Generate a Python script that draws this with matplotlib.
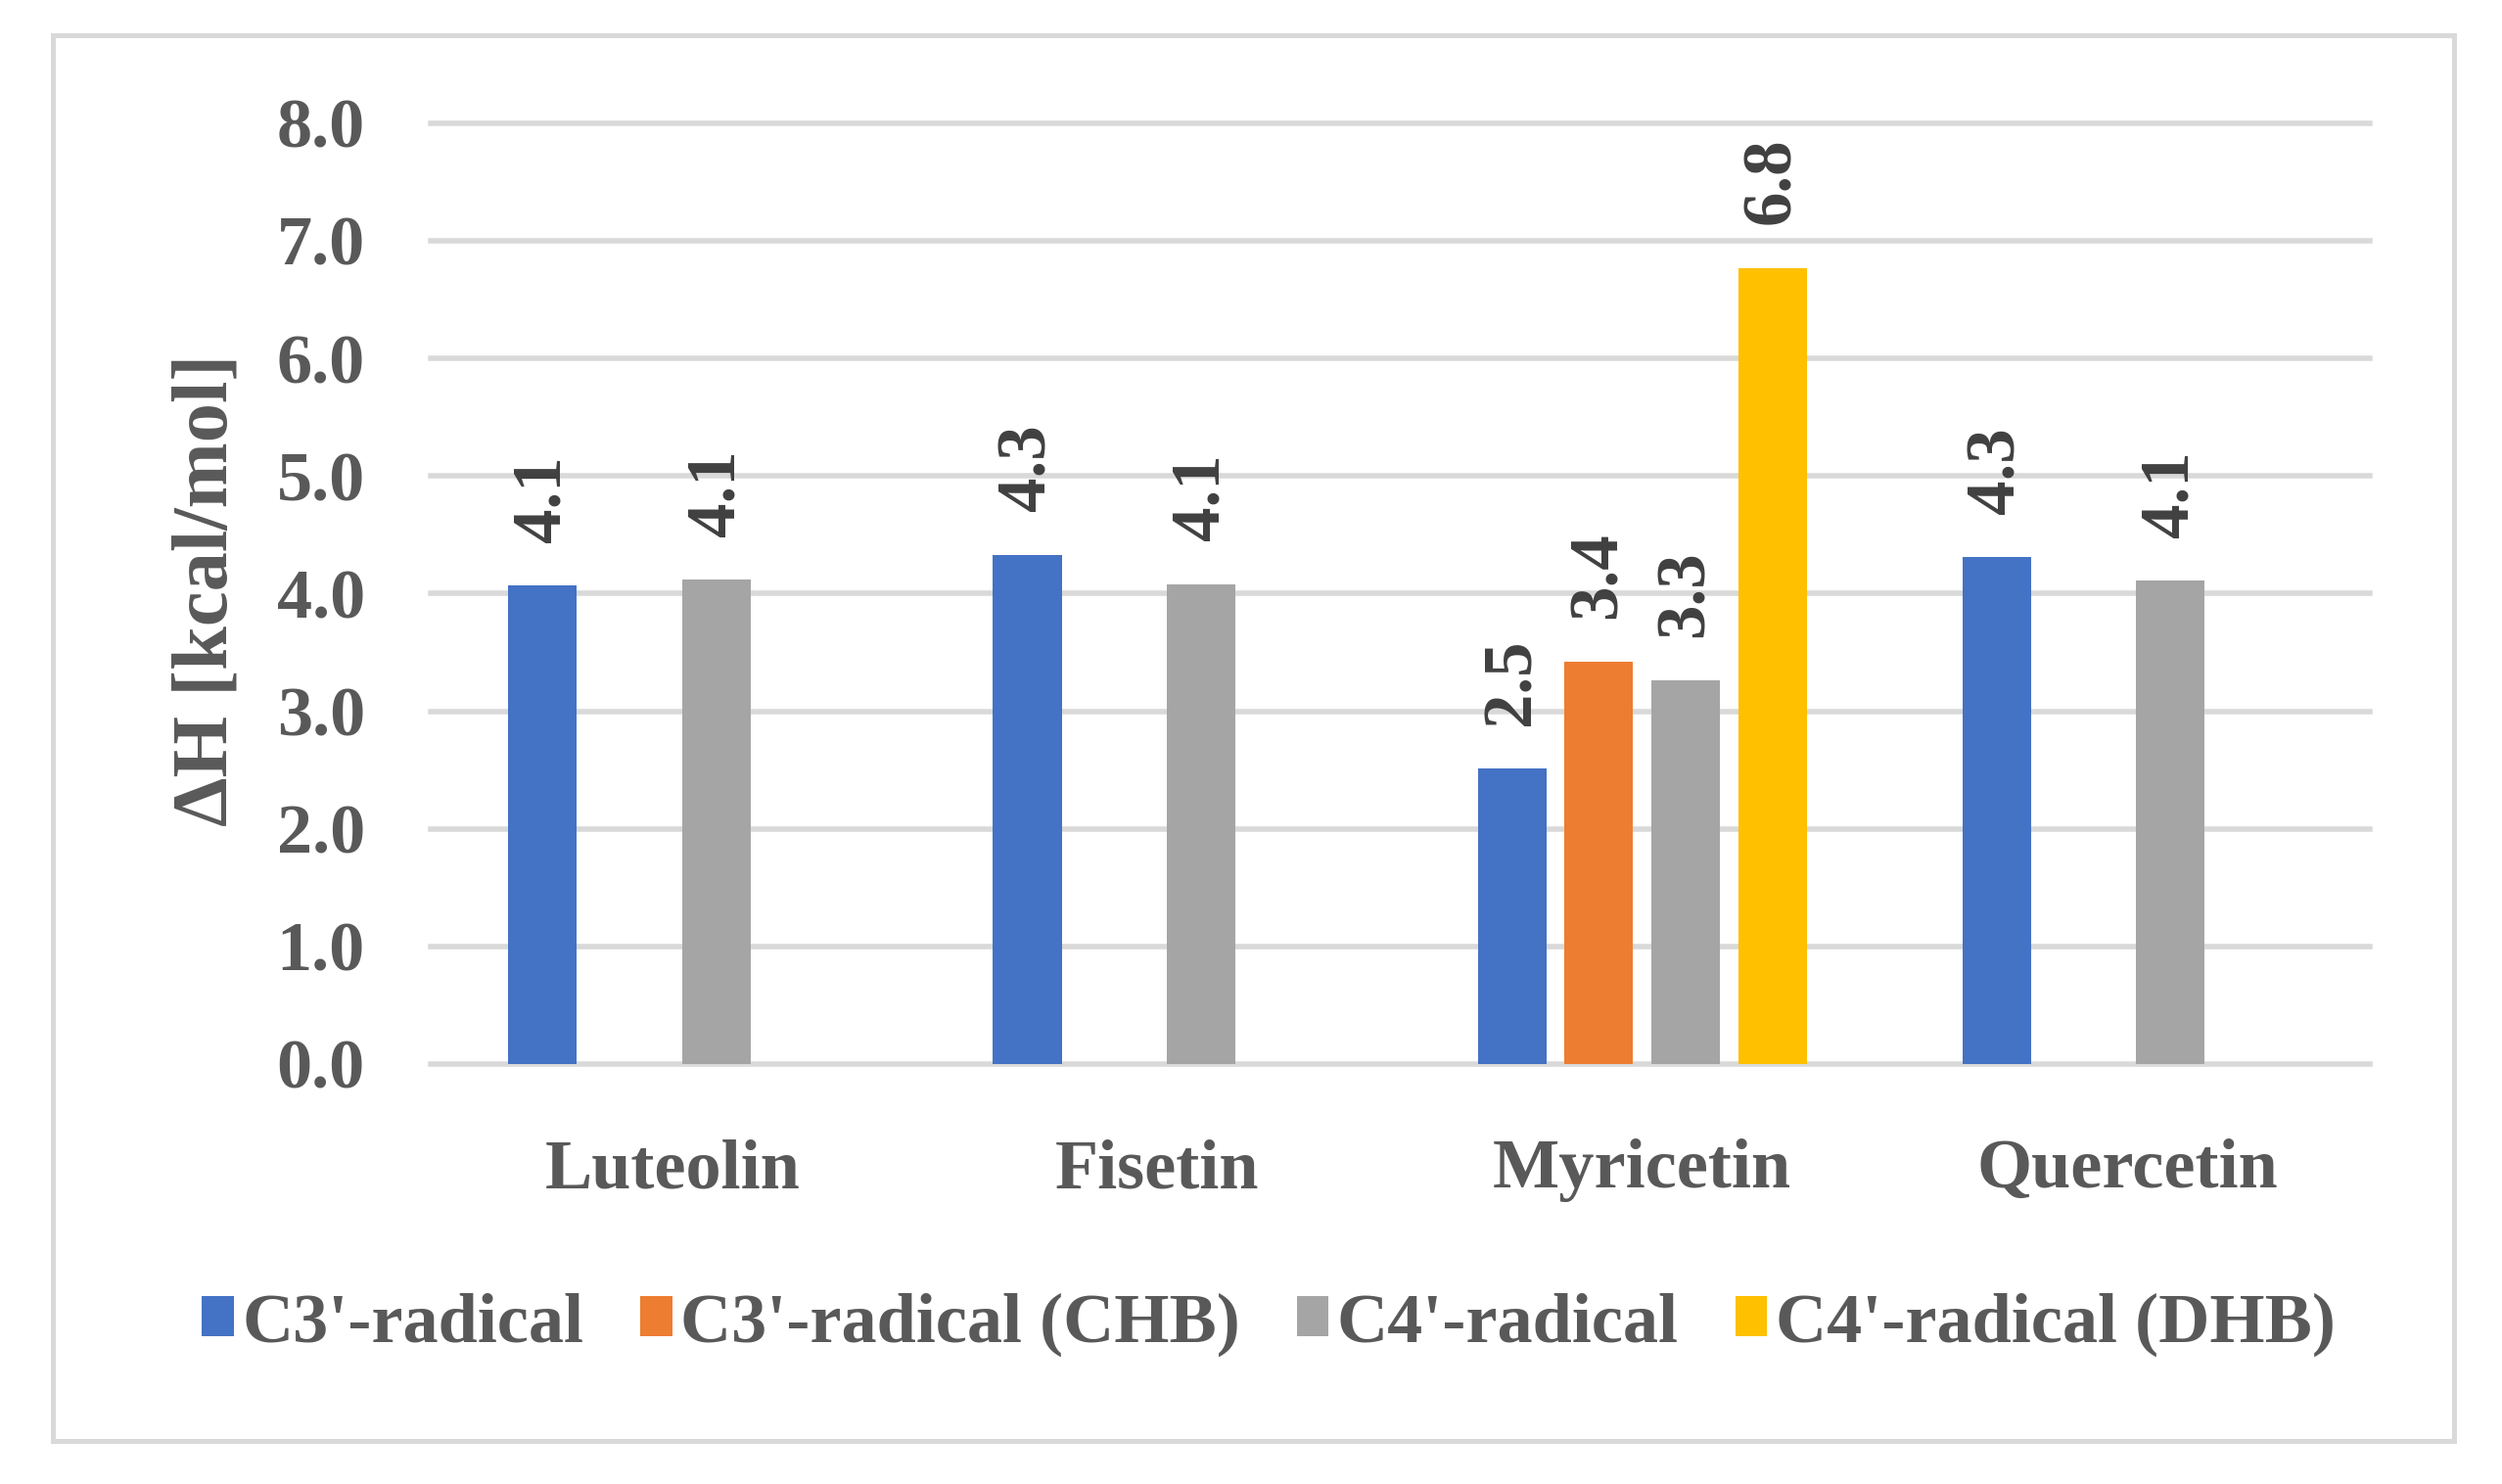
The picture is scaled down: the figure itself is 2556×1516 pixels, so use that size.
import numpy as np
import matplotlib
matplotlib.use('Agg')
import matplotlib.pyplot as plt
from matplotlib.patches import Rectangle

# Дані діаграми
compounds = ['Luteolin', 'Fisetin', 'Myricetin', 'Quercetin']
series = ["C3'-radical", "C3'-radical (CHB)", "C4'-radical", "C4'-radical (DHB)"]
c3_radical = [4.07, 4.33, 2.51, 4.31]
c3_radical_chb = [np.nan, np.nan, 3.42, np.nan]
c4_radical = [4.12, 4.08, 3.26, 4.11]
c4_radical_dhb = [np.nan, np.nan, 6.77, np.nan]
yticks = [0, 1, 2, 3, 4, 5, 6, 7, 8]

colors = ['#4472C4', '#ED7D31', '#A5A5A5', '#FFC000']
values = [c3_radical, c3_radical_chb, c4_radical, c4_radical_dhb]

plt.rcParams['font.family'] = ['Liberation Serif', 'DejaVu Serif']
plt.rcParams['font.weight'] = 'bold'

fig = plt.figure(figsize=(25.56, 15.16), dpi=100)
ax = fig.add_axes([0.172, 0.283, 0.775, 0.634])

x = np.arange(len(compounds))
step = 0.179
width = 0.1415
for i, (name, vals, col) in enumerate(zip(series, values, colors)):
    pos = x + (i - 1.5) * step
    ax.bar(pos, vals, width, color=col, label=name, zorder=3)
    for p, v in zip(pos, vals):
        if np.isnan(v):
            continue
        ax.annotate('%.1f' % v, (p, v), xytext=(0, 32), textcoords='offset points',
                    rotation=90, ha='center', va='bottom', fontsize=51,
                    fontweight='bold', color='#404040')

ax.set_xlim(-0.5, 3.5)
ax.set_ylim(0, 8)
ax.set_yticks(yticks)
ax.set_yticklabels(['%.1f' % t for t in yticks])
ax.set_xticks(x)
ax.set_xticklabels(compounds)
ax.tick_params(axis='both', length=0, labelsize=52, labelcolor='#595959')
ax.tick_params(axis='x', pad=55)
ax.tick_params(axis='y', pad=48)
for s in ax.spines.values():
    s.set_visible(False)
ax.grid(axis='y', color='#D9D9D9', linewidth=4, zorder=0)
for gl in ax.get_ygridlines():
    gl.set_clip_on(False)
ax.set_axisbelow(True)

fig.text(0.083, 0.602, 'ΔH [kcal/mol]', rotation=90, ha='center', va='center',
         fontsize=58, fontweight='bold', color='#595959')

fig.legend(loc='center', bbox_to_anchor=(0.507, 0.1075), ncol=4, frameon=False,
           fontsize=52, labelcolor='#595959', handlelength=0.45, handleheight=0.5,
           handletextpad=0.12, columnspacing=0.8)

# Рамка навколо діаграми
fig.patches.append(Rectangle((0.0211, 0.029), 0.9599, 0.947, transform=fig.transFigure,
                             fill=False, edgecolor='#D9D9D9', linewidth=3.6))

fig.savefig('out.png', dpi=100, facecolor='white')
